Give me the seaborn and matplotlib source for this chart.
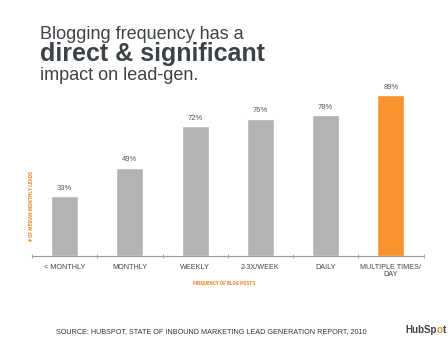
import matplotlib
matplotlib.use("Agg")
import matplotlib.pyplot as plt
import seaborn as sns
import pandas as pd
import numpy as np

categories = ["< MONTHLY", "MONTHLY", "WEEKLY", "2-3X/WEEK", "DAILY", "MULTIPLE TIMES/\nDAY"]
values = [33, 49, 72, 76, 78, 89]
value_labels = ["33%", "49%", "72%", "76%", "78%", "89%"]
bar_colors = ["#b3b3b3", "#b3b3b3", "#b3b3b3", "#b3b3b3", "#b3b3b3", "#f7922e"]

title_line1 = "Blogging frequency has a"
title_line2 = "direct & significant"
title_line3 = "impact on lead-gen."
y_label = "# OF MEDIAN MONTHLY LEADS"
x_label = "FREQUENCY OF BLOG POSTS"
source = "SOURCE: HUBSPOT, STATE OF INBOUND MARKETING LEAD GENERATION REPORT, 2010"

sns.set_theme(style="white")
plt.rcParams["font.family"] = ["Liberation Sans", "DejaVu Sans"]
narrow = ["Liberation Sans Narrow", "Roboto Condensed", "DejaVu Sans Condensed",
          "Liberation Sans", "DejaVu Sans"]

df = pd.DataFrame({"cat": categories, "val": values})

fig = plt.figure(figsize=(4.48, 3.39), dpi=100)
fig.patch.set_facecolor("white")
ax = fig.add_axes([32 / 448, 1 - 256 / 339, 391.5 / 448, 180.5 / 339])

sns.barplot(data=df, x="cat", y="val", hue="cat", palette=bar_colors,
            legend=False, width=0.41, ax=ax, saturation=1)

ax.set_xlim(-0.5, len(categories) - 0.5)
ax.set_ylim(0, 100)
for s in ["top", "right", "left"]:
    ax.spines[s].set_visible(False)
ax.spines["bottom"].set_color("#9a9a9a")
ax.spines["bottom"].set_linewidth(0.8)
ax.set_yticks([])
ax.set_xticks(range(len(categories)))
ax.set_xticklabels(categories, fontsize=5.2, color="#444444", linespacing=1.0)
ax.set_xticks(np.arange(-0.5, len(categories), 1.0), minor=True)
ax.tick_params(axis="x", which="major", length=0, pad=6)
ax.tick_params(axis="x", which="minor", length=3, width=0.6, color="#9a9a9a",
               direction="inout", bottom=True)
ax.set_xlabel("")
ax.set_ylabel("")

for i, (v, lab) in enumerate(zip(values, value_labels)):
    ax.annotate(lab, (i, v), xytext=(0, 3.2), textcoords="offset points",
                ha="center", va="bottom", fontsize=5.5, color="#555555")

orange = "#ec8a30"
fig.text(31 / 448, 1 - 206 / 339, y_label, rotation=90, ha="center", va="center",
         fontsize=3.95, color=orange, fontweight="bold", family=narrow)
fig.text(224 / 448, 1 - 283 / 339, x_label, ha="center", va="center",
         fontsize=3.9, color=orange, fontweight="bold", family=narrow)

title_color = "#3d4148"
fig.text(40 / 448, 1 - 39.3 / 339, title_line1, ha="left", va="baseline",
         fontsize=13, color=title_color)
fig.text(40 / 448, 1 - 61 / 339, title_line2, ha="left", va="baseline",
         fontsize=18, color=title_color, fontweight="bold")
fig.text(40 / 448, 1 - 80 / 339, title_line3, ha="left", va="baseline",
         fontsize=13, color=title_color)

fig.text(211 / 448, 1 - 332 / 339, source, ha="center", va="center",
         fontsize=5.2, color="#333333")

fig.text(405 / 448, 1 - 333 / 339, "HubSp", ha="left", va="baseline",
         fontsize=7, color="#3d4148", fontweight="bold")
fig.text(436.5 / 448, 1 - 333 / 339, "o", ha="left", va="baseline",
         fontsize=7, color="#f08a2c", fontweight="bold")
fig.text(442.5 / 448, 1 - 333 / 339, "t", ha="left", va="baseline",
         fontsize=7, color="#3d4148", fontweight="bold")

fig.savefig("out.png", dpi=100, facecolor="white")
